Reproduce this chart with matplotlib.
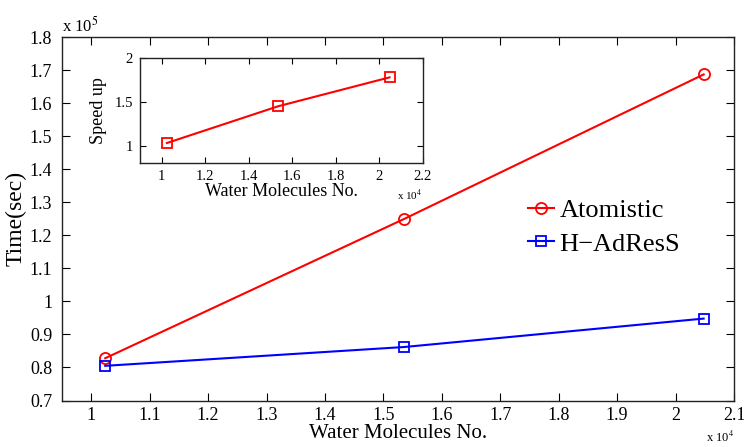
import matplotlib
matplotlib.use("Agg")
import matplotlib.pyplot as plt

plt.rcParams["font.family"] = ["Liberation Serif", "DejaVu Serif"]
plt.rcParams["mathtext.fontset"] = "stix"

# data (x in units of 1e4, time in units of 1e5)
molecules = [1.024, 1.536, 2.048]
time_atomistic = [0.828, 1.250, 1.687]
time_adress = [0.805, 0.862, 0.948]
speedup = [1.03, 1.45, 1.78]

main_xticks = [1, 1.1, 1.2, 1.3, 1.4, 1.5, 1.6, 1.7, 1.8, 1.9, 2, 2.1]
main_yticks = [0.7, 0.8, 0.9, 1, 1.1, 1.2, 1.3, 1.4, 1.5, 1.6, 1.7, 1.8]
inset_xticks = [1, 1.2, 1.4, 1.6, 1.8, 2, 2.2]
inset_yticks = [1, 1.5, 2]


def fmt(v):
    return ("%g" % v)


def matlab_style(ax, size):
    for s in ax.spines.values():
        s.set_linewidth(1.0)
        s.set_color("#222222")
    ax.tick_params(direction="in", top=True, right=True, length=6,
                   width=0.8, labelsize=size, pad=7)


fig = plt.figure(figsize=(7.44, 4.47), dpi=100)
ax = fig.add_axes([0.0833, 0.104, 0.9033, 0.813])

ax.plot(molecules, time_atomistic, color="red", lw=1.5, marker="o",
        ms=8, mfc="none", mew=1.3, label="Atomistic")
ax.plot(molecules, time_adress, color="blue", lw=1.5, marker="s",
        ms=6.5, mfc="none", mew=1.3, label="H\u2212AdResS")

ax.set_xlim(0.95, 2.1)
ax.set_ylim(0.7, 1.8)
ax.set_xticks(main_xticks)
ax.set_xticklabels([fmt(v) for v in main_xticks])
ax.set_yticks(main_yticks)
ax.set_yticklabels([fmt(v) for v in main_yticks])
matlab_style(ax, 13)
ax.tick_params(axis="x", pad=5)
ax.set_xlabel("Water Molecules No.", fontsize=15, labelpad=0)
ax.set_ylabel("Time(sec)", fontsize=17, labelpad=2)

ax.text(0.0, 1.005, r"x 10$^{5}$", transform=ax.transAxes,
        fontsize=12, ha="left", va="bottom")
ax.text(1.0, -0.08, r"x 10$^{4}$", transform=ax.transAxes,
        fontsize=9, ha="right", va="top")

leg = ax.legend(loc="upper left", bbox_to_anchor=(0.666, 0.606),
                frameon=False, fontsize=19, handlelength=1.0,
                handletextpad=0.2, labelspacing=0.38, borderpad=0.2)

# inset
ins = fig.add_axes([0.188, 0.635, 0.380, 0.235])
ins.plot(molecules, speedup, color="red", lw=1.5, marker="s",
         ms=6.5, mfc="none", mew=1.3)
ins.set_xlim(0.9, 2.2)
ins.set_ylim(0.8, 2)
ins.set_xticks(inset_xticks)
ins.set_xticklabels([fmt(v) for v in inset_xticks])
ins.set_yticks(inset_yticks)
ins.set_yticklabels([fmt(v) for v in inset_yticks])
matlab_style(ins, 10.5)
ins.tick_params(length=4, pad=5)
ins.set_xlabel("Water Molecules No.", fontsize=13, labelpad=0)
ins.set_ylabel("Speed up", fontsize=13, labelpad=5)
ins.text(1.0, -0.24, r"x 10$^{4}$", transform=ins.transAxes,
         fontsize=8, ha="right", va="top")

fig.savefig("out.png", dpi=100)
